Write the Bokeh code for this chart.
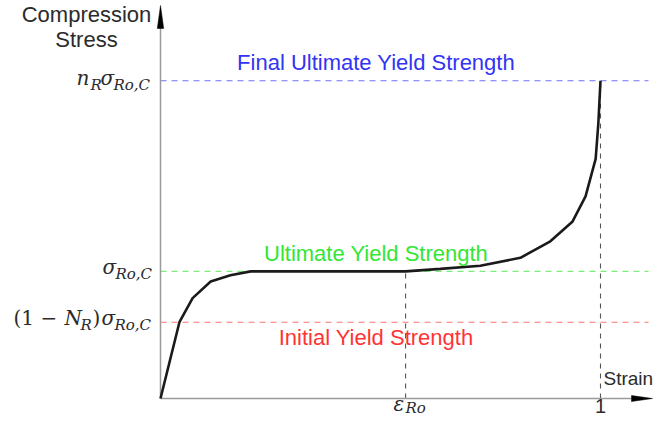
from bokeh.plotting import figure
from bokeh.models import Range1d, ColumnDataSource
from bokeh.core.properties import value
from bokeh.embed import file_html
from bokeh.resources import INLINE

# ---------------- data ----------------
strain = [0.0, 0.043, 0.073, 0.114, 0.159, 0.205, 0.557, 0.636, 0.727,
          0.818, 0.886, 0.936, 0.966, 0.989, 0.995, 1.0]
stress = [0.0, 0.60, 0.79, 0.92, 0.97, 1.0, 1.0, 1.02, 1.045,
          1.107, 1.237, 1.39, 1.59, 1.885, 2.16, 2.50]

level_names = ["Final Ultimate Yield Strength", "Ultimate Yield Strength",
               "Initial Yield Strength"]
level_values = [2.5, 1.0, 0.6]
eps_ro = 0.557
strain_max = 1.0

# ---------------- styles ----------------
level_text_colors = ["#3333f5", "#33e633", "#ff3333"]
level_line_colors = ["#7070ff", "#7af07a", "#ff7474"]
text_dark = "#2b2b2b"
sans = "Liberation Sans"
serif = "DejaVu Serif"

W, H = 654, 420
ox, oy_top = 160, 398      # origin in screen px (from left / from top)
sx, sy = 440.0, 127.1      # px per data unit
oy = H - oy_top

p = figure(width=W, height=H, output_backend="svg", toolbar_location=None,
           x_axis_type=None, y_axis_type=None,
           x_range=Range1d(-ox / sx, (W - ox) / sx),
           y_range=Range1d(-oy / sy, (H - oy) / sy),
           min_border=0, min_border_left=0, min_border_right=0,
           min_border_top=0, min_border_bottom=0)
p.grid.visible = False
p.outline_line_color = None
p.background_fill_color = "white"
p.border_fill_color = "white"

x_end = (652 - ox) / sx          # tip of strain axis arrow
y_end = (oy_top - 5) / sy        # tip of stress axis arrow
hline_end = (648 - ox) / sx

# horizontal dashed reference lines
p.segment(x0=[0] * 3, y0=level_values, x1=[hline_end] * 3, y1=level_values,
          line_color=level_line_colors, line_width=1.2, line_dash="6 5")

# vertical dashed lines
p.segment(x0=[eps_ro, strain_max], y0=[0, 0], x1=[eps_ro, strain_max],
          y1=[level_values[1], level_values[0]],
          line_color="#555555", line_width=1.1, line_dash="5 5")

# axes
hx_len, hx_w = 21 / sx, 3 / sy
hy_len, hy_w = 23 / sy, 3.2 / sx
p.segment(x0=[0, 0], y0=[0, 0], x1=[x_end - hx_len, 0], y1=[0, y_end - hy_len],
          line_color="#9a9a9a", line_width=1.5)
p.patch([x_end - hx_len, x_end, x_end - hx_len], [-hx_w, 0, hx_w],
        color="black", line_width=0.5)
p.patch([-hy_w, 0, hy_w], [y_end - hy_len, y_end, y_end - hy_len],
        color="black", line_width=0.5)

# curve
p.line(strain, stress, line_color="#1a1a1a", line_width=2.6)


def add_text(xs, ys, texts, xo, yo, font, size, color, style="normal",
             align="left"):
    # baseline correction (glyph baseline renders lower than the anchor)
    corr = 0.405 * size
    src = ColumnDataSource(dict(x=xs, y=ys, text=texts, xo=xo,
                                yo=[v - corr for v in yo]))
    p.text(x="x", y="y", text="text", x_offset="xo", y_offset="yo",
           source=src, text_font=value(font), text_font_size=f"{size}px",
           text_color=color, text_font_style=style, text_align=align,
           text_baseline="alphabetic")


# level titles
for name, lv, col, yo in zip(level_names, level_values, level_text_colors,
                             [-9, -9, 24]):
    add_text([0.49], [lv], [name], [0], [yo], sans, 22, col, align="center")

# axis titles
y_top = (H - oy) / sy
add_text([0, 0], [y_top, y_top], ["Compression", "Stress"], [-74, -74],
         [22.7, 48.3], sans, 22, text_dark, align="center")
add_text([strain_max], [0], ["Strain"], [3], [-12], sans, 19, text_dark)
add_text([strain_max], [0], ["1"], [0], [16], sans, 20, text_dark,
         align="center")

# math labels (main glyphs)
lt, lu, li = level_values
add_text([0, 0, 0, 0, eps_ro],
         [lt, lt, lu, li, 0],
         ["n", "σ", "σ", "σ", "ε"],
         [-84, -60, -58, -59, -12],
         [5, 5, 4, 4, 14],
         serif, 20, text_dark, style="italic")
add_text([0, 0], [li, li], ["(1 − ", ")"], [-147, -68], [4, 4],
         serif, 20, text_dark)
add_text([0], [li], ["N"], [-96], [4], serif, 20, text_dark, style="italic")
# subscripts
add_text([0, 0, 0, 0, 0, eps_ro],
         [lt, lt, lu, li, li, 0],
         ["R", "Ro,C", "Ro,C", "R", "Ro,C", "Ro"],
         [-70, -47, -45, -80, -46, 0],
         [10, 10, 9, 9, 9, 16],
         serif, 15, text_dark, style="italic")

open("out.html", "w").write(file_html(p, INLINE))
